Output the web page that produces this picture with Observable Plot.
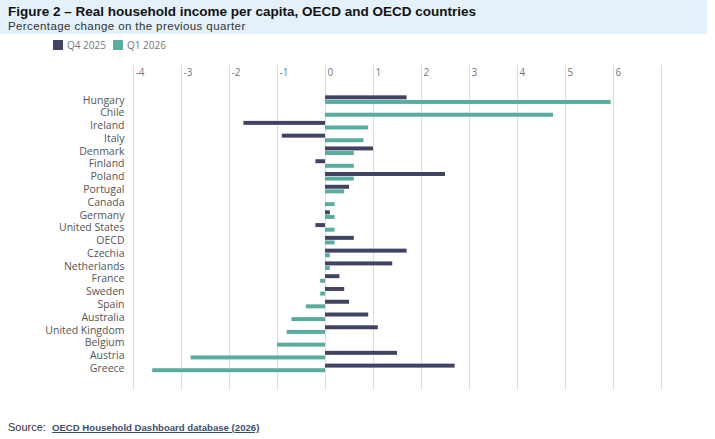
<!DOCTYPE html>
<html>
<head>
<meta charset="utf-8">
<script src="https://cdn.jsdelivr.net/npm/d3@7"></script>
<script src="https://cdn.jsdelivr.net/npm/@observablehq/plot@0.6"></script>
<style>
  html, body { margin: 0; padding: 0; background: #fff; }
  body { position: relative; width: 715px; height: 439px; overflow: hidden; font-family: "Open Sans", "Noto Sans", sans-serif; }
  #band { position: absolute; left: 0; top: 0; width: 707px; height: 34px; background: #e4f1fa; }
  #title { position: absolute; left: 8px; top: 5px; line-height: 1; font-family: "Liberation Sans", Arial, sans-serif; font-weight: 700; font-size: 13.5px; color: #111; white-space: nowrap; letter-spacing: 0px; }
  #subtitle { position: absolute; left: 8px; top: 21px; line-height: 1; font-family: "Liberation Sans", Arial, sans-serif; font-size: 11.5px; color: #333; white-space: nowrap; letter-spacing: 0.4px; }
  #legend { position: absolute; left: 53px; top: 38px; font-size: 10px; color: #777; display: flex; align-items: center; white-space: nowrap; }
  #legend .sw { display: inline-block; width: 10px; height: 10px; margin-right: 4px; }
  #legend .item { display: flex; align-items: center; margin-right: 7px; }
  #chart { position: absolute; left: 0; top: 0; }
  #source { position: absolute; left: 8px; top: 421px; font-family: "Liberation Sans Narrow", "Liberation Sans", sans-serif; font-size: 11px; color: #333; white-space: nowrap; }
  #source a { color: #3b4f70; text-decoration: underline; font-size: 9.6px; font-weight: 700; margin-left: 3px; }
</style>
</head>
<body>
<div id="chart"></div>
<div id="band">
  <div id="title">Figure 2 – Real household income per capita, OECD and OECD countries</div>
  <div id="subtitle">Percentage change on the previous quarter</div>
</div>
<div id="legend"></div>
<div id="source">Source: <a>OECD Household Dashboard database (2026)</a></div>
<script>
const countries = ["Hungary","Chile","Ireland","Italy","Denmark","Finland","Poland","Portugal","Canada","Germany","United States","OECD","Czechia","Netherlands","France","Sweden","Spain","Australia","United Kingdom","Belgium","Austria","Greece"];
const q4_2025 = [1.7, null, -1.7, -0.9, 1.0, -0.2, 2.5, 0.5, null, 0.1, -0.2, 0.6, 1.7, 1.4, 0.3, 0.4, 0.5, 0.9, 1.1, null, 1.5, 2.7];
const q1_2026 = [5.95, 4.75, 0.9, 0.8, 0.6, 0.6, 0.6, 0.4, 0.2, 0.2, 0.2, 0.2, 0.1, 0.1, -0.1, -0.1, -0.4, -0.7, -0.8, -1.0, -2.8, -3.6];
const seriesNames = ["Q4 2025", "Q1 2026"];
const seriesColors = ["#404363", "#58ad9f"];
const tickLabels = [-4, -3, -2, -1, 0, 1, 2, 3, 4, 5, 6];
const gridTicks = [-4, -3, -2, -1, 0, 1, 2, 3, 4, 5, 6, 7];

const rowsQ4 = countries.map((c, i) => ({country: c, value: q4_2025[i]})).filter(d => d.value != null);
const rowsQ1 = countries.map((c, i) => ({country: c, value: q1_2026[i]})).filter(d => d.value != null);

const legend = document.getElementById("legend");
seriesNames.forEach((n, i) => {
  const it = document.createElement("span");
  it.className = "item";
  it.innerHTML = `<span class="sw" style="background:${seriesColors[i]}"></span>${n}`;
  legend.appendChild(it);
});

const plot = Plot.plot({
  width: 715,
  height: 400,
  marginLeft: 133,
  marginRight: 54,
  marginTop: 65,
  marginBottom: 10,
  x: {domain: [-4, 7], axis: null},
  y: {domain: countries, paddingInner: 0, paddingOuter: 1.72, align: 0.645, round: false, axis: null},
  style: {fontFamily: "'Open Sans', 'Noto Sans', sans-serif", background: "transparent"},
  marks: [
    Plot.ruleX(gridTicks, {x: d => d, stroke: "#dcdcdc", strokeWidth: 1}),
    Plot.text(tickLabels, {x: d => d, frameAnchor: "top", dy: 3, dx: 2, textAnchor: "start", text: d => String(d), fill: "#777", fontSize: 10}),
    Plot.axisY({tickSize: 0, tickPadding: 9, fontSize: 10.5, color: "#555", label: null}),
    Plot.barX(rowsQ4, {x: "value", y: "country", fill: seriesColors[0], insetTop: 2, insetBottom: 6.8}),
    Plot.barX(rowsQ1, {x: "value", y: "country", fill: seriesColors[1], insetTop: 6.6, insetBottom: 2.2})
  ]
});
document.getElementById("chart").appendChild(plot);
</script>
</body>
</html>
